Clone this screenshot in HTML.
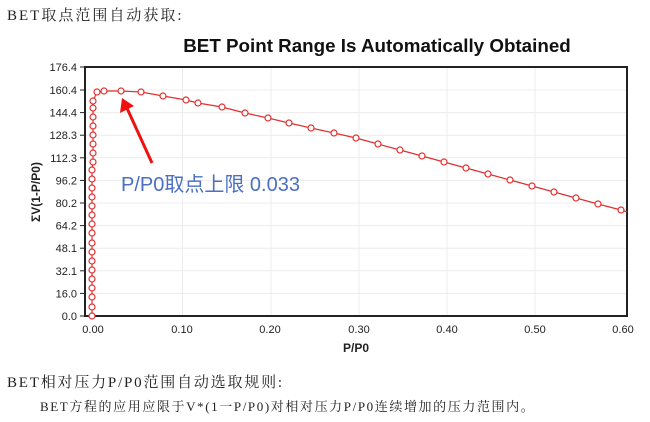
<!DOCTYPE html>
<html><head><meta charset="utf-8"><style>
body{margin:0;background:#fff;width:650px;height:422px;overflow:hidden}
svg{display:block}
</style></head><body>
<svg width="650" height="422" xmlns="http://www.w3.org/2000/svg">
<text x="7" y="20" font-family="Liberation Serif, 'Noto Serif CJK SC', serif" font-size="15" letter-spacing="2" fill="#222">BET取点范围自动获取:</text>
<text x="377" y="52" text-anchor="middle" font-family="Liberation Sans, sans-serif" font-weight="bold" font-size="18.8" fill="#111">BET Point Range Is Automatically Obtained</text>
<g stroke="#ececec" stroke-width="1">
<line x1="85" y1="293.4" x2="627" y2="293.4"/><line x1="85" y1="270.8" x2="627" y2="270.8"/><line x1="85" y1="248.2" x2="627" y2="248.2"/><line x1="85" y1="225.6" x2="627" y2="225.6"/><line x1="85" y1="203" x2="627" y2="203"/><line x1="85" y1="180.4" x2="627" y2="180.4"/><line x1="85" y1="157.8" x2="627" y2="157.8"/><line x1="85" y1="135.2" x2="627" y2="135.2"/><line x1="85" y1="112.6" x2="627" y2="112.6"/><line x1="85" y1="90" x2="627" y2="90"/>
<line x1="182.5" y1="67" x2="182.5" y2="316"/><line x1="271" y1="67" x2="271" y2="316"/><line x1="359" y1="67" x2="359" y2="316"/><line x1="447" y1="67" x2="447" y2="316"/><line x1="535" y1="67" x2="535" y2="316"/>
</g>
<rect x="85" y="67" width="542" height="249" fill="none" stroke="#222" stroke-width="2"/>
<g font-family="Liberation Sans, sans-serif" font-size="11" fill="#222" text-anchor="end">
<text x="77" y="320">0.0</text><text x="77" y="297.4">16.0</text><text x="77" y="274.8">32.1</text><text x="77" y="252.2">48.1</text><text x="77" y="229.6">64.2</text><text x="77" y="207">80.2</text><text x="77" y="184.4">96.2</text><text x="77" y="161.8">112.3</text><text x="77" y="139.2">128.3</text><text x="77" y="116.6">144.4</text><text x="77" y="94">160.4</text><text x="77" y="71">176.4</text>
</g>
<g stroke="#222" stroke-width="1">
<line x1="80" y1="316" x2="85" y2="316"/><line x1="80" y1="293.4" x2="85" y2="293.4"/><line x1="80" y1="270.8" x2="85" y2="270.8"/><line x1="80" y1="248.2" x2="85" y2="248.2"/><line x1="80" y1="225.6" x2="85" y2="225.6"/><line x1="80" y1="203" x2="85" y2="203"/><line x1="80" y1="180.4" x2="85" y2="180.4"/><line x1="80" y1="157.8" x2="85" y2="157.8"/><line x1="80" y1="135.2" x2="85" y2="135.2"/><line x1="80" y1="112.6" x2="85" y2="112.6"/><line x1="80" y1="90" x2="85" y2="90"/><line x1="80" y1="67" x2="85" y2="67"/>
</g>
<g font-family="Liberation Sans, sans-serif" font-size="11" fill="#222" text-anchor="middle">
<text x="93" y="333">0.00</text><text x="182" y="333">0.10</text><text x="270" y="333">0.20</text><text x="359" y="333">0.30</text><text x="447" y="333">0.40</text><text x="535" y="333">0.50</text><text x="623" y="333">0.60</text>
</g>
<text x="356" y="352" text-anchor="middle" font-family="Liberation Sans, sans-serif" font-weight="bold" font-size="12" fill="#222">P/P0</text>
<text transform="translate(40,192) rotate(-90)" text-anchor="middle" font-family="Liberation Sans, sans-serif" font-weight="bold" font-size="12" fill="#222">ΣV(1-P/P0)</text>
<g fill="#fff" stroke="#e03030" stroke-width="1.2">
<polyline fill="none" points="92,316 92,307 92,297 92,288 92,279 92,270 92,261 92,252 92,243 92,233 92,224 92,215 92,206 92,197 92,188 92,179 92,170 93,162 93,153 93,144 93,135 93,126 93,117 93,108 93,101 97,92 104,91 121,91 141,92 163,96 186,100 198,103 222,107 245,113 268,118 289,123 311,128 334,133 356,138 378,144 400,150 422,156 444,162 466,168 488,174 510,180 532,186 554,192 576,198 598,204 621,210 627,212"/>
<circle r="3" cx="92" cy="316"/><circle r="3" cx="92" cy="307"/><circle r="3" cx="92" cy="297"/><circle r="3" cx="92" cy="288"/><circle r="3" cx="92" cy="279"/><circle r="3" cx="92" cy="270"/><circle r="3" cx="92" cy="261"/><circle r="3" cx="92" cy="252"/><circle r="3" cx="92" cy="243"/><circle r="3" cx="92" cy="233"/><circle r="3" cx="92" cy="224"/><circle r="3" cx="92" cy="215"/><circle r="3" cx="92" cy="206"/><circle r="3" cx="92" cy="197"/><circle r="3" cx="92" cy="188"/><circle r="3" cx="92" cy="179"/><circle r="3" cx="92" cy="170"/><circle r="3" cx="93" cy="162"/><circle r="3" cx="93" cy="153"/><circle r="3" cx="93" cy="144"/><circle r="3" cx="93" cy="135"/><circle r="3" cx="93" cy="126"/><circle r="3" cx="93" cy="117"/><circle r="3" cx="93" cy="108"/><circle r="3" cx="93" cy="101"/><circle r="3" cx="97" cy="92"/><circle r="3" cx="104" cy="91"/><circle r="3" cx="121" cy="91"/><circle r="3" cx="141" cy="92"/><circle r="3" cx="163" cy="96"/><circle r="3" cx="186" cy="100"/><circle r="3" cx="198" cy="103"/><circle r="3" cx="222" cy="107"/><circle r="3" cx="245" cy="113"/><circle r="3" cx="268" cy="118"/><circle r="3" cx="289" cy="123"/><circle r="3" cx="311" cy="128"/><circle r="3" cx="334" cy="133"/><circle r="3" cx="356" cy="138"/><circle r="3" cx="378" cy="144"/><circle r="3" cx="400" cy="150"/><circle r="3" cx="422" cy="156"/><circle r="3" cx="444" cy="162"/><circle r="3" cx="466" cy="168"/><circle r="3" cx="488" cy="174"/><circle r="3" cx="510" cy="180"/><circle r="3" cx="532" cy="186"/><circle r="3" cx="554" cy="192"/><circle r="3" cx="576" cy="198"/><circle r="3" cx="598" cy="204"/><circle r="3" cx="621" cy="210"/>
</g>
<line x1="152" y1="163" x2="126" y2="106" stroke="#f01010" stroke-width="3"/>
<polygon points="122,98 120,113 134,106" fill="#f01010"/>
<text x="121" y="191" font-family="Liberation Sans, 'Noto Sans CJK SC', sans-serif" font-size="20" fill="#4a6fc4">P/P0取点上限 0.033</text>
<text x="7" y="387" font-family="Liberation Serif, 'Noto Serif CJK SC', serif" font-size="15" letter-spacing="1.8" fill="#222">BET相对压力P/P0范围自动选取规则:</text>
<text x="40" y="411" font-family="Liberation Serif, 'Noto Serif CJK SC', serif" font-size="13" letter-spacing="1.6" fill="#222">BET方程的应用应限于V*(1一P/P0)对相对压力P/P0连续增加的压力范围内。</text>
</svg>
</body></html>
